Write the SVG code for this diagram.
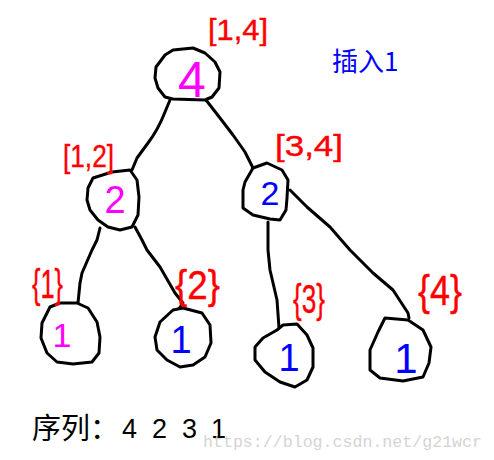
<svg xmlns="http://www.w3.org/2000/svg" width="494" height="460" viewBox="0 0 494 460">
<style>
.bg{fill:#fff}
.edge{fill:none;stroke:#000;stroke-width:3;stroke-linejoin:round;stroke-linecap:round}
.shape{fill:#fff;stroke:#000;stroke-width:3;stroke-linejoin:round}
.rng{fill:#f00;stroke:#f00;stroke-width:0.4;font-family:"Liberation Sans",Arial,sans-serif}
.num{font-family:"Liberation Sans",Arial,sans-serif;text-anchor:middle}
.mag{fill:#f0f}
.blu{fill:#00f}
.cap{font-family:"Noto Sans CJK SC","Liberation Sans",sans-serif}
.dig{font-family:"Liberation Sans",Arial,sans-serif;font-size:27px;fill:#000}
</style>
<rect class="bg" x="0" y="0" width="494" height="460"/>
<g id="connectors">
<path class="edge" d="M170,100 L165,112 Q158,130 148,143 L137,158 L132,170"/>
<path class="edge" d="M206,100 L220,118 L233,135 L245,152 L253,168"/>
<path class="edge" d="M290,190 L307,207 L330,227 L350,250 L373,273 L393,290 L408,313 L409,318"/>
<path class="edge" d="M268,222 L268,250 L270,270 L277,300 L279,328"/>
<path class="edge" d="M100,228 L97,240 L92,250 L82,273 L80,283 L78,303"/>
<path class="edge" d="M135,227 L142,240 L147,250 L160,267 L175,293 L183,303 L178,310"/>
</g>
<g id="root">
<path class="shape" d="M165,55 L173,50 L193,48 L205,53 L215,62 L220,72 L219,88 L212,97 L205,100 L173,99 L165,97 L158,88 L155,78 L156,67 Z"/>
<text class="num mag" x="192" y="97" font-size="50">4</text>
<text class="rng" x="208" y="40" font-size="30" textLength="60" lengthAdjust="spacingAndGlyphs">[1,4]</text>
</g>
<g id="left">
<path class="shape" d="M93,178 L112,172 L130,170 L137,180 L139,197 L138,215 L132,227 L120,230 L108,227 L98,220 L90,210 L87,200 L88,188 Z"/>
<text class="num mag" x="115" y="213" font-size="38">2</text>
<text class="rng" x="63" y="167" font-size="32" textLength="51" lengthAdjust="spacingAndGlyphs">[1,2]</text>
</g>
<g id="right">
<path class="shape" d="M245,182 L253,168 L267,163 L282,170 L288,180 L287,198 L286,210 L280,220 L270,219 L253,215 L243,208 L243,190 Z"/>
<text class="num blu" x="270" y="205" font-size="34">2</text>
<text class="rng" x="275" y="156" font-size="30" textLength="68" lengthAdjust="spacingAndGlyphs">[3,4]</text>
</g>
<g id="leaf1">
<path class="shape" d="M50,307 L60,303 L77,303 L88,308 L97,322 L100,337 L99,353 L92,362 L73,364 L57,362 L47,353 L41,338 L42,323 Z"/>
<text class="num mag" x="62" y="347" font-size="34">1</text>
<text class="rng" x="32" y="298" font-size="40" textLength="31" lengthAdjust="spacingAndGlyphs">{1}</text>
</g>
<g id="leaf2">
<path class="shape" d="M173,310 L183,308 L202,313 L210,325 L211,343 L205,357 L193,365 L180,367 L167,360 L157,350 L155,337 L160,322 Z"/>
<text class="num blu" x="181" y="353" font-size="38">1</text>
<text class="rng" x="175" y="299" font-size="40" textLength="45" lengthAdjust="spacingAndGlyphs">{2}</text>
</g>
<g id="leaf3">
<path class="shape" d="M283,325 L297,324 L307,335 L313,348 L313,367 L307,380 L295,387 L280,382 L265,372 L255,360 L255,347 L263,338 L277,330 Z"/>
<text class="num blu" x="289" y="371" font-size="38">1</text>
<text class="rng" x="293" y="313" font-size="40" textLength="32" lengthAdjust="spacingAndGlyphs">{3}</text>
</g>
<g id="leaf4">
<path class="shape" d="M385,318 L408,320 L423,330 L431,347 L429,363 L423,377 L403,381 L380,378 L370,370 L370,350 L378,332 L383,322 Z"/>
<text class="num blu" x="406" y="373" font-size="42">1</text>
<text class="rng" x="418" y="305" font-size="42" textLength="44" lengthAdjust="spacingAndGlyphs">{4}</text>
</g>
<g id="title">
<text class="cap" x="332" y="71" font-size="26" fill="#00f">插入1</text>
</g>
<g id="sequence">
<text class="cap" x="32" y="439" font-size="29" fill="#000">序列：</text>
<text class="dig" x="122" y="438">4</text>
<text class="dig" x="152" y="438">2</text>
<text class="dig" x="182" y="438">3</text>
<text class="dig" x="211" y="438">1</text>
</g>
<g id="watermark">
<text x="203" y="447" font-size="17" fill="#d4d4d4" font-family="Liberation Mono,monospace" textLength="279" lengthAdjust="spacingAndGlyphs">https://blog.csdn.net/g21wcr</text>
</g>
</svg>
